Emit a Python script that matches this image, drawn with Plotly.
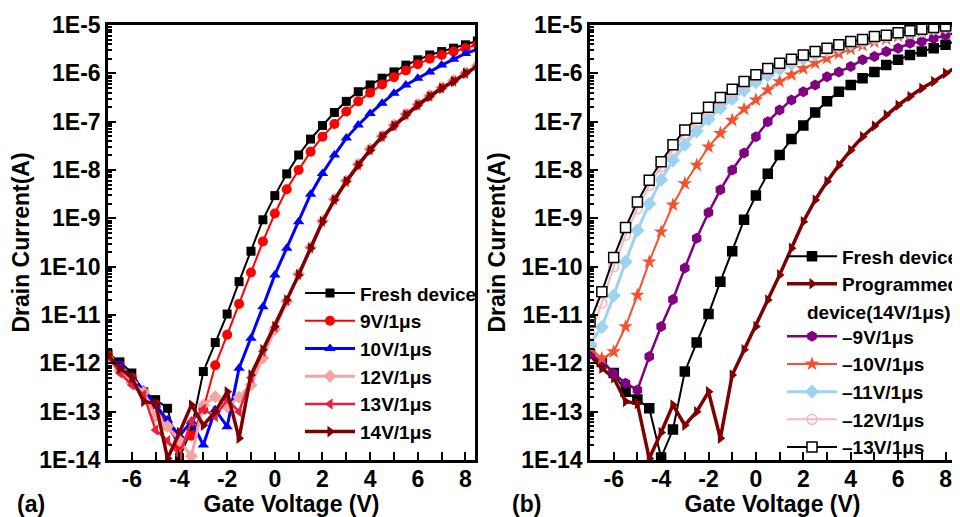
import plotly.graph_objects as go
from plotly.subplots import make_subplots

# Gate voltage grid (V)
vg = [-7.0, -6.5, -6.0, -5.5, -5.0, -4.5, -4.0, -3.5, -3.0, -2.5, -2.0, -1.5, -1.0, -0.5,
      0.0, 0.5, 1.0, 1.5, 2.0, 2.5, 3.0, 3.5, 4.0, 4.5, 5.0, 5.5, 6.0, 6.5, 7.0, 7.5, 8.0, 8.5]

# log10 of drain current (A)
fresh_log = [-11.80, -11.97, -12.20, -12.59, -12.75, -12.93, -13.95, -13.37, -12.17, -11.57, -10.98,
             -10.31, -9.68, -9.03, -8.53, -8.08, -7.69, -7.36, -7.08, -6.81, -6.58, -6.38, -6.24,
             -6.10, -5.97, -5.83, -5.72, -5.62, -5.55, -5.48, -5.41, -5.33]
p9_log = [-11.85, -12.05, -12.30, -12.60, -12.85, -13.30, -13.70, -13.50, -12.95, -12.04, -11.41,
          -10.77, -10.12, -9.48, -8.90, -8.40, -8.00, -7.62, -7.31, -7.05, -6.79, -6.58, -6.40,
          -6.23, -6.08, -5.94, -5.81, -5.70, -5.62, -5.55, -5.48, -5.40]
p10_log = [-11.85, -12.03, -12.30, -12.55, -12.86, -13.17, -13.50, -13.20, -13.69, -12.96, -13.31,
           -12.10, -11.48, -10.83, -10.17, -9.62, -9.07, -8.50, -8.07, -7.69, -7.34, -7.07, -6.83,
           -6.62, -6.41, -6.24, -6.10, -5.97, -5.83, -5.71, -5.59, -5.50]
p12_log = [-11.90, -12.15, -12.40, -12.60, -13.10, -13.30, -13.60, -13.92, -12.86, -12.69, -12.90,
           -12.70, -12.45, -11.89, -11.30, -10.72, -10.15, -9.60, -9.05, -8.60, -8.22, -7.88, -7.57,
           -7.30, -7.07, -6.84, -6.64, -6.46, -6.30, -6.15, -5.99, -5.84]
p13_log = [-11.85, -12.20, -12.45, -12.65, -13.38, -13.60, -13.90, -13.20, -12.95, -13.10, -12.75,
           -13.00, -12.30, -11.75, -11.25, -10.70, -10.16, -9.61, -9.06, -8.61, -8.23, -7.89, -7.58,
           -7.30, -7.08, -6.85, -6.65, -6.47, -6.30, -6.16, -6.00, -5.85]
p14_log = [-11.83, -12.10, -12.30, -12.79, -12.83, -13.97, -13.43, -12.86, -13.28, -13.00, -12.59,
           -13.55, -12.24, -11.72, -11.24, -10.69, -10.17, -9.62, -9.07, -8.62, -8.24, -7.90, -7.59,
           -7.31, -7.09, -6.86, -6.66, -6.48, -6.31, -6.17, -6.00, -5.85]

e9_log = [-11.80, -11.93, -12.21, -12.41, -12.55, -11.86, -11.24, -10.68, -10.03, -9.41, -8.88,
          -8.41, -8.00, -7.65, -7.31, -7.00, -6.76, -6.55, -6.38, -6.24, -6.07, -5.97, -5.86,
          -5.72, -5.65, -5.55, -5.48, -5.38, -5.34, -5.28, -5.21, -5.15]
e10_log = [-11.68, -11.90, -11.76, -11.24, -10.59, -9.90, -9.28, -8.72, -8.28, -7.90, -7.52,
           -7.24, -6.97, -6.74, -6.55, -6.34, -6.17, -6.03, -5.90, -5.79, -5.69, -5.59, -5.50,
           -5.42, -5.35, -5.29, -5.23, -5.18, -5.13, -5.09, -5.06, -5.03]
e11_log = [-11.60, -11.25, -10.60, -9.90, -9.25, -8.70, -8.20, -7.80, -7.48, -7.20, -6.95,
           -6.72, -6.53, -6.35, -6.18, -6.04, -5.91, -5.80, -5.70, -5.61, -5.53, -5.46, -5.39,
           -5.34, -5.28, -5.24, -5.19, -5.15, -5.12, -5.08, -5.05, -5.02]
e12_log = [-11.40, -10.75, -10.00, -9.35, -8.80, -8.32, -7.93, -7.57, -7.26, -7.00, -6.77,
           -6.57, -6.40, -6.23, -6.08, -5.95, -5.84, -5.75, -5.66, -5.58, -5.51, -5.44, -5.37,
           -5.32, -5.26, -5.22, -5.17, -5.13, -5.10, -5.06, -5.03, -5.01]
e13_log = [-11.14, -10.52, -9.81, -9.19, -8.66, -8.21, -7.83, -7.48, -7.17, -6.93, -6.70,
           -6.50, -6.33, -6.17, -6.03, -5.90, -5.79, -5.71, -5.62, -5.55, -5.48, -5.41, -5.34,
           -5.30, -5.24, -5.21, -5.16, -5.12, -5.09, -5.05, -5.02, -5.00]

ytick_vals_log = [-14, -13, -12, -11, -10, -9, -8, -7, -6, -5]
ytick_text = ["1E-14", "1E-13", "1E-12", "1E-11", "1E-10", "1E-9", "1E-8", "1E-7", "1E-6", "1E-5"]
xtick_vals = [-6, -4, -2, 0, 2, 4, 6, 8]
xtick_text = ["-6", "-4", "-2", "0", "2", "4", "6", "8"]

FONT = "Liberation Sans"
W, H = 952, 509  # page body has an 8 px margin inside the 960x517 window


def cur(lst):
    return [10 ** v for v in lst]


fig = make_subplots(rows=1, cols=2)

series_a = [
    ("Fresh device", fresh_log, "#000000", "square", 9, 2),
    ("9V/1μs", p9_log, "#ff0000", "circle", 10, 2),
    ("10V/1μs", p10_log, "#0000ff", "triangle-up", 10, 3),
    ("12V/1μs", p12_log, "#f4a3a3", "diamond", 10, 3),
    ("13V/1μs", p13_log, "#e8203a", "triangle-left", 10, 2.5),
    ("14V/1μs", p14_log, "#7f0000", "triangle-right", 10, 3.5),
]
for name, data, color, sym, size, lw in series_a:
    fig.add_trace(go.Scatter(x=vg, y=cur(data), name=name, mode="lines+markers",
                             line=dict(color=color, width=lw),
                             marker=dict(symbol=sym, size=size, color=color),
                             legend="legend"), row=1, col=1)

series_b = [
    ("Fresh device", fresh_log, "#000000", "square", 9, 2, "#000000"),
    ("Programmed<br>\u00a0", p14_log, "#7f0000", "triangle-right", 10, 3.5, "#7f0000"),
    ("–9V/1μs", e9_log, "#800080", "hexagon", 11, 2.5, "#800080"),
    ("–10V/1μs", e10_log, "#f2532e", "star", 11, 2, "#f2532e"),
    ("–11V/1μs", e11_log, "#9dd3f2", "diamond", 11, 3, "#9dd3f2"),
    ("–12V/1μs", e12_log, "#f4b6c0", "circle-open", 10, 2, "#f4b6c0"),
    ("–13V/1μs", e13_log, "#000000", "square", 10, 2, "#ffffff"),
]
for name, data, color, sym, size, lw, fill in series_b:
    fig.add_trace(go.Scatter(x=vg, y=cur(data), name=name, mode="lines+markers",
                             line=dict(color=color, width=lw),
                             marker=dict(symbol=sym, size=size, color=fill,
                                         line=dict(color=color, width=1.5 if sym in ("square", "circle-open") else 0)),
                             legend="legend2"), row=1, col=2)

tickfont = dict(family=FONT, size=23, color="black", weight="bold")
titlefont = dict(family=FONT, size=23, color="black", weight="bold")
legfont = dict(family=FONT, size=19, color="black", weight="bold")

for ax in ("xaxis", "xaxis2"):
    fig.layout[ax].update(
        range=[-7.0, 8.4], tickmode="array", tickvals=xtick_vals, ticktext=xtick_text,
        ticks="inside", ticklen=8, tickwidth=2, tickcolor="black",
        minor=dict(ticks="inside", ticklen=8, tickwidth=2, tickcolor="black", dtick=1, tick0=0, showgrid=False),
        showline=True, linewidth=2.5, linecolor="black", mirror=True, showgrid=False, zeroline=False,
        tickfont=tickfont, automargin=False, ticklabelstandoff=-3,
        title=dict(text="Gate Voltage (V)", font=titlefont, standoff=17),
    )
for ax in ("yaxis", "yaxis2"):
    fig.layout[ax].update(
        type="log", range=[-14, -5], tickmode="array",
        tickvals=[10 ** v for v in ytick_vals_log], ticktext=ytick_text,
        ticks="inside", ticklen=8, tickwidth=2, tickcolor="black",
        minor=dict(ticks="inside", ticklen=4, tickwidth=1.5, tickcolor="black", dtick="D1", showgrid=False),
        showline=True, linewidth=2.5, linecolor="black", mirror=True, showgrid=False, zeroline=False,
        tickfont=tickfont, automargin=False,
        title=dict(text="Drain Current(A)", font=titlefont, standoff=10),
    )

fig.update_layout(
    xaxis=dict(domain=[100 / W, 467 / W]),
    xaxis2=dict(domain=[582 / W, 947 / W]),
    width=W, height=H,
    margin=dict(l=0, r=0, t=17, b=57, autoexpand=False),
    paper_bgcolor="white", plot_bgcolor="white",
    font=dict(family=FONT, color="black"),
    legend=dict(x=292 / W, y=0.427, xanchor="left", yanchor="top", bgcolor="rgba(0,0,0,0)",
                font=legfont, tracegroupgap=0, itemwidth=50),
    legend2=dict(x=774 / W, y=0.512, xanchor="left", yanchor="top", bgcolor="rgba(0,0,0,0)",
                 font=legfont, tracegroupgap=0, itemwidth=50, valign="top"),
    showlegend=True,
    annotations=[
        dict(text="device(14V/1μs)", x=797 / W, y=(452 - 304) / 435, xref="paper", yref="paper",
             xanchor="left", yanchor="middle", showarrow=False, font=legfont),
        dict(text="(a)", x=7 / W, y=0.0, xref="paper", yref="paper", xanchor="left", yanchor="top",
             yshift=-29, showarrow=False, font=dict(family=FONT, size=23, color="black", weight="bold")),
        dict(text="(b)", x=502 / W, y=0.0, xref="paper", yref="paper", xanchor="left", yanchor="top",
             yshift=-29, showarrow=False, font=dict(family=FONT, size=23, color="black", weight="bold")),
    ],
)

fig.write_html("out.html")
